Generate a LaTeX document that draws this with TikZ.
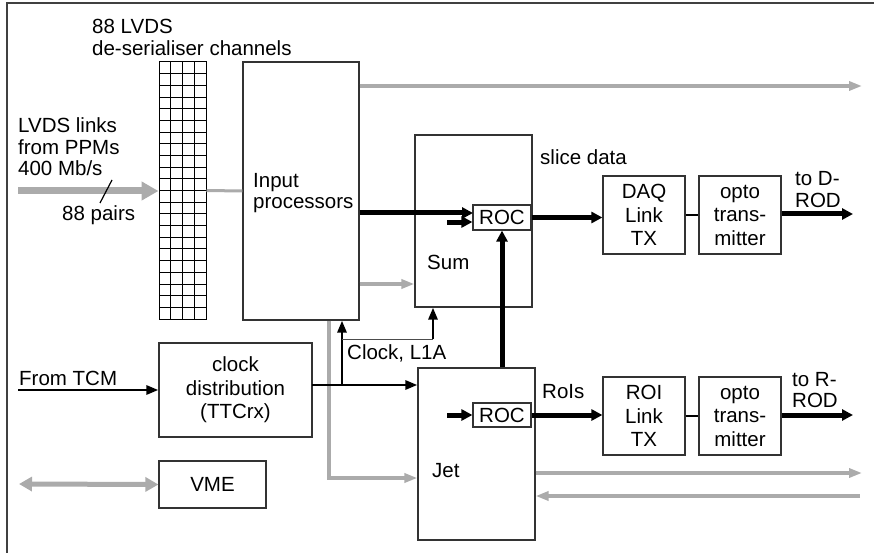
\documentclass[tikz,border=0pt]{standalone}
\usepackage{fontspec}
\setmainfont{Liberation Sans}
\usetikzlibrary{arrows.meta, positioning}

\begin{document}
\begin{tikzpicture}[
    x=1pt, y=-1pt,
    box/.style={rectangle, draw=black!80, line width=1.2pt, inner sep=0pt, font=\fontsize{20.5}{23.5}\selectfont, align=center},
    txt/.style={inner sep=0pt, font=\fontsize{20.5}{21.5}\selectfont, align=left, anchor=west},
    thickarr/.style={line width=5pt, -{Triangle[length=11pt, width=11pt]}},
    medarr/.style={line width=2.8pt, -{Triangle[length=12pt, width=9pt]}},
    grayline/.style={draw=black!33, line width=4pt},
    grayarr/.style={grayline, -{Triangle[length=13pt, width=9pt]}},
    bigarr/.style={draw=black!33, line width=7pt, -{Triangle[length=17pt, width=18pt]}},
    vmearr/.style={draw=black!33, line width=5pt, {Triangle[length=13pt, width=14pt]}-{Triangle[length=13pt, width=14pt]}}
]
\useasboundingbox (0,0) rectangle (874,553);
% Frame
\draw[black!75, line width=1.5pt] (7,553) -- (7,3) -- (874,3);

% De-serialiser
\node[txt] (desertxt) at (92,37.5) {88 LVDS\\de-serialiser channels};
\node[box, line width=1pt, draw=black, minimum width=47pt, minimum height=257pt] (deser) at (182.5,190.5) {};
\foreach \i in {1,2,3}
    \draw[line width=0.9pt] (159+11.75*\i,62) -- (159+11.75*\i,319);
\foreach \j in {1,...,21}
    \draw[line width=0.9pt] (159,62+257/22*\j) -- (206,62+257/22*\j);

% Input
\node[txt] (lvdstxt) at (18,147) {LVDS links\\from PPMs\\400 Mb/s};
\node[txt] (pairstxt) at (62,215) {88 pairs};
\coordinate (lvdsin) at (18,191);

% Processors
\node[box, minimum width=116pt, minimum height=258pt] (inproc) at (301,191) {};
\node[txt] (inproctxt) at (253,193) {Input\\processors};
\node[box, minimum width=117pt, minimum height=172pt] (sum) at (473.5,221) {};
\node[txt] (sumtxt) at (427,262) {Sum};
\node[box, minimum width=117pt, minimum height=172pt] (jet) at (476.5,454) {};
\node[txt] (jettxt) at (432,471) {Jet};
\node[box, minimum width=58pt, minimum height=25pt] (sumroc) at (502,217.5) {ROC};
\node[box, minimum width=58pt, minimum height=24pt] (jetroc) at (502,415) {ROC};

% Readout
\node[txt] (slicetxt) at (540,157) {slice data};
\node[box, minimum width=82pt, minimum height=78pt] (daq) at (644,215) {DAQ\\Link\\TX};
\node[box, minimum width=82pt, minimum height=78pt] (opto1) at (740,215) {opto\\trans-\\mitter};
\node[txt] (rodDtxt) at (795,189.5) {to D-\\ROD};
\node[txt] (roistxt) at (542,392) {RoIs};
\node[box, minimum width=82pt, minimum height=78pt] (roi) at (644,416) {ROI\\Link\\TX};
\node[box, minimum width=82pt, minimum height=78pt] (opto2) at (740,416) {opto\\trans-\\mitter};
\node[txt] (rodRtxt) at (792,390) {to R-\\ROD};

% Clock and VME
\node[txt] (tcmtxt) at (19,378) {From TCM};
\node[box, minimum width=153pt, minimum height=94pt] (clock) at (235.5,390) {clock\\distribution\\(TTCrx)};
\node[txt] (clktxt) at (347,353) {Clock, L1A};
\node[box, minimum width=107pt, minimum height=47pt] (vme) at (212.5,484.5) {VME};

% Coordinates
\coordinate (outtop) at (862,86);
\coordinate (sumin) at (473,213);
\coordinate (sumaux) at (447,222);
\coordinate (jetaux) at (447,415);
\coordinate (rodD) at (853,214);
\coordinate (rodR) at (853,415);
\coordinate (grdown) at (329,478);
\coordinate (jetout) at (862,473);
\coordinate (jetin) at (860,496);
\coordinate (vmeext) at (19,484);
\coordinate (tcm) at (18,390);
\coordinate (clkout) at (312,385);
\coordinate (clkbr) at (342,385);
\coordinate (clkup) at (342,339);
\coordinate (clksum) at (433,339);

% Gray arrows
\draw[bigarr] (lvdsin) -- (lvdsin -| deser.west);
\draw[line width=1.2pt] (112,180) -- (100,203);
\draw[grayline, line width=3pt] (deser.east) -- (inproc.west);
\draw[grayarr] (inproc.east |- outtop) -- (outtop);
\draw[grayarr] ([yshift=-93pt]inproc.east) -- ([yshift=-93pt]inproc.east -| sum.west);
\draw[grayarr] (grdown |- inproc.south) -- (grdown) -- (grdown -| jet.west);
\draw[grayarr] (jetout -| jet.east) -- (jetout);
\draw[grayarr] (jetin) -- (jetin -| jet.east);
\draw[vmearr] (vmeext) -- (vme.west);

% Black arrows
\draw[thickarr] (inproc.east |- sumin) -- (sumin);
\draw[thickarr] (sumaux) -- (sumaux -| sumroc.west);
\draw[thickarr] (sumroc.east) -- (sumroc.east -| daq.west);
\draw[line width=1.5pt] (daq.east) -- (opto1.west);
\draw[thickarr] (opto1.east |- rodD) -- (rodD);
\draw[thickarr] (sumroc.south |- jet.north) -- (sumroc.south);
\draw[thickarr] (jetaux) -- (jetroc.west);
\draw[thickarr] (jetroc.east) -- (jetroc.east -| roi.west);
\draw[line width=1.5pt] (roi.east) -- (opto2.west);
\draw[thickarr] (opto2.east |- rodR) -- (rodR);

% Clock
\draw[medarr] (tcm) -- (clock.west);
\draw[medarr] (clkout) -- (clkout -| jet.west);
\draw[medarr] (clkbr) -- (clkbr |- inproc.south);
\draw[line width=1pt, black!70] (clkup) -- (clksum);
\draw[medarr] (clksum) -- (clksum |- sum.south);
\end{tikzpicture}
\end{document}
